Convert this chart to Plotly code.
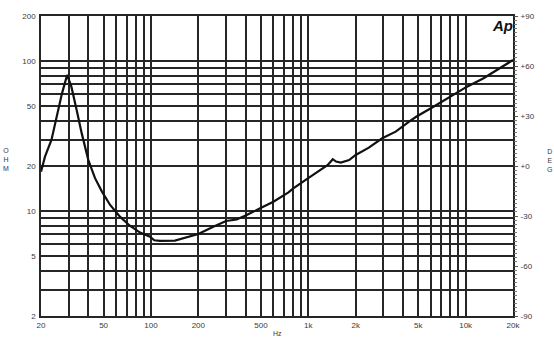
import plotly.graph_objects as go

# Impedance curve (Hz, ohm)
freq = [20, 21.2, 23.3, 25.2, 27.2, 29.3, 31.2, 33.7, 36.3, 40, 44.1, 48.8, 55, 63.5,
        73.4, 85.3, 98.6, 105, 114, 142, 169, 200, 249, 300, 350, 406, 494, 600, 748,
        803, 973, 1181, 1330, 1430, 1500, 1610, 1818, 2000, 2425, 2948, 3593, 4373,
        4849, 6245, 7980, 10200, 13000, 16470, 20000]
ohm = [18.3, 23.1, 29.8, 42.6, 61, 80.9, 67.6, 47.2, 33.0, 21.9, 16.6, 13.5, 11.0, 9.19,
       8.0, 7.2, 6.76, 6.4, 6.33, 6.36, 6.69, 7.04, 7.88, 8.6, 8.8, 9.42, 10.45, 11.56, 13.35,
       14.2, 16.3, 18.8, 20.3, 22.2, 21.4, 21.1, 21.9, 23.7, 26.5, 30.6, 33.9, 39.5,
       42.6, 49.7, 58, 67.6, 76.9, 89.6, 101.8]

x_grid = [20, 30, 40, 50, 60, 70, 80, 90, 100, 200, 300, 400, 500, 600, 700, 800, 900,
          1000, 2000, 3000, 4000, 5000, 6000, 7000, 8000, 9000, 10000, 20000]
x_labels = {20: "20", 50: "50", 100: "100", 200: "200", 500: "500", 1000: "1k",
            2000: "2k", 5000: "5k", 10000: "10k", 20000: "20k"}
y_grid = [2, 3, 4, 5, 6, 7, 8, 9, 10, 20, 30, 40, 50, 60, 70, 80, 90, 100, 200]
y_labels = {2: "2", 5: "5", 10: "10", 20: "20", 50: "50", 100: "100", 200: "200"}
deg_vals = [-90, -60, -30, 0, 30, 60, 90]
deg_text = ["-90", "-60", "-30", "+0", "+30", "+60", "+90"]

GRID = "#262626"
TXT = "#3a3a3a"
FONT = "Liberation Sans, Arial, sans-serif"

fig = go.Figure()
fig.add_trace(go.Scatter(x=freq, y=ohm, mode="lines",
                         line=dict(color="#111111", width=2.2),
                         showlegend=False, hoverinfo="skip"))
fig.add_trace(go.Scatter(x=[], y=[], yaxis="y2", showlegend=False))

fig.update_layout(
    width=554, height=350,
    margin=dict(l=41, r=41, t=16, b=34),
    paper_bgcolor="white", plot_bgcolor="white",
    font=dict(family=FONT, size=8, color=TXT),
    xaxis=dict(type="log", range=[1.30103, 4.30103],
               tickvals=x_grid, ticktext=[x_labels.get(v, "") for v in x_grid],
               showgrid=True, gridcolor=GRID, gridwidth=1.6,
               showline=True, linecolor=GRID, linewidth=1.6, mirror=True,
               ticks="", ticklabelstandoff=1, zeroline=False,
               tickfont=dict(size=8, color=TXT)),
    yaxis=dict(type="log", range=[0.30103, 2.30103],
               tickvals=y_grid, ticktext=[y_labels.get(v, "") for v in y_grid],
               showgrid=True, gridcolor=GRID, gridwidth=1.6,
               showline=True, linecolor=GRID, linewidth=1.6, mirror=True,
               ticks="", ticklabelstandoff=2, zeroline=False,
               tickfont=dict(size=8, color=TXT)),
    yaxis2=dict(overlaying="y", side="right", range=[-90, 90],
                tickvals=deg_vals, ticktext=deg_text,
                showgrid=False, zeroline=False, showline=False,
                ticks="outside", ticklen=4, tickwidth=1, tickcolor="#555555",
                minor=dict(dtick=2.5, ticks="outside", ticklen=3, tickwidth=1,
                           tickcolor="#777777", showgrid=False),
                ticklabelstandoff=1,
                tickfont=dict(size=8, color=TXT)),
    annotations=[
        dict(text="O<br>H<br>M", x=6, y=159, xref="paper", yref="paper",
             showarrow=False, font=dict(size=7, color=TXT)),
        dict(text="D<br>E<br>G", x=549, y=160, showarrow=False,
             font=dict(size=7, color=TXT)),
        dict(text="Hz", x=277, y=333, showarrow=False, font=dict(size=7, color=TXT)),
        dict(text="<b><i>Ap</i></b>", x=502, y=25, showarrow=False,
             font=dict(size=15, color="#111111")),
    ],
)

# convert pixel annotation positions to paper coords
W, H = 554, 350
L, R, T, B = 41, 41, 16, 34
pw, ph = W - L - R, H - T - B
new_ann = []
for a in fig.layout.annotations:
    px, py = a.x, a.y
    a.xref = "paper"
    a.yref = "paper"
    a.x = (px - L) / pw
    a.y = 1 - (py - T) / ph
    a.xanchor = "center"
    a.yanchor = "middle"
    new_ann.append(a)
fig.layout.annotations = new_ann

fig.write_html("out.html")
